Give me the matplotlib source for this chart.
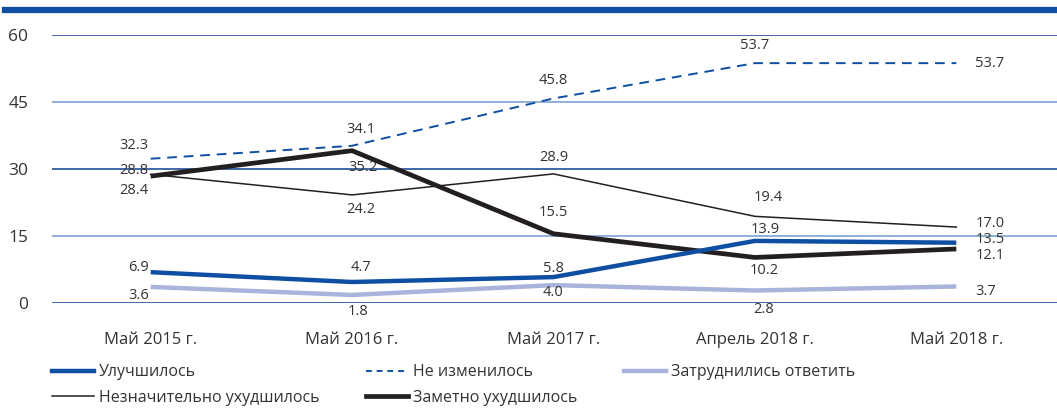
import matplotlib
matplotlib.use("Agg")
import matplotlib.pyplot as plt
from matplotlib.lines import Line2D

plt.rcParams['font.family'] = ['Open Sans', 'DejaVu Sans']

periods = ["Май 2015 г.", "Май 2016 г.", "Май 2017 г.", "Апрель 2018 г.", "Май 2018 г."]
improved = [6.9, 4.7, 5.8, 13.9, 13.5]
unchanged = [32.3, 35.2, 45.8, 53.7, 53.7]
no_answer = [3.6, 1.8, 4.0, 2.8, 3.7]
slightly_worse = [28.8, 24.2, 28.9, 19.4, 17.0]
much_worse = [28.4, 34.1, 15.5, 10.2, 12.1]
yticks = [0, 15, 30, 45, 60]

BLUE = "#0f4fa3"
LAV = "#aab3db"
DARK = "#231f20"

# label offsets in pixels (dx, dy) per point
off_improved = [(-2, 5), (9, 15), (0, 9), (10, 11), (19, 3)]
off_unchanged = [(-2, 13), (11, -22), (0, 18), (0, 18), (19, 0)]
off_no_answer = [(-2, -9), (6, -17), (0, -7), (9, -19), (19, -5)]
off_slightly = [(-2, 4), (9, -15), (0, 16), (13, 19), (19, 4)]
off_much = [(-2, -14), (9, 21), (0, 21), (9, -13), (19, -7)]

fig = plt.figure(figsize=(10.57, 4.15), dpi=100)
ax = fig.add_axes([52 / 1057, 1 - 303 / 415, 1 - 52 / 1057, 268 / 415])

x = list(range(len(periods)))
ax.set_xlim(-0.49, 4.5)
ax.set_ylim(0, 60)

for t in yticks:
    c = "#1f4e9a" if t % 30 == 0 else "#7ea3d3"
    ax.axhline(t, color=c, lw=1.2, zorder=0)

ax.plot(x, no_answer, color=LAV, lw=3.2, solid_capstyle='butt')
ax.plot(x, slightly_worse, color=DARK, lw=1.1)
ax.plot(x, much_worse, color=DARK, lw=3.4, solid_capstyle='butt')
ax.plot(x, unchanged, color=BLUE, lw=1.4, dashes=(5, 3.5))
ax.plot(x, improved, color=BLUE, lw=3.2, solid_capstyle='butt')

for vals, offs in [(improved, off_improved), (unchanged, off_unchanged),
                   (no_answer, off_no_answer), (slightly_worse, off_slightly),
                   (much_worse, off_much)]:
    for i, (v, (dx, dy)) in enumerate(zip(vals, offs)):
        ha = 'right' if i == 0 else ('left' if i == len(vals) - 1 else 'center')
        ax.annotate(f"{v:.1f}", (i, v), xytext=(dx, dy), textcoords='offset pixels',
                    ha=ha, va='center', fontsize=10.5, color="#333333")

ax.set_xticks(x)
ax.set_xticklabels(periods, fontsize=12, color="#333333")
ax.set_yticks(yticks)
ax.set_yticklabels([str(t) for t in yticks], fontsize=12.5, color="#333333")
ax.tick_params(length=0)
ax.tick_params(axis='x', pad=21)
ax.tick_params(axis='y', pad=17)
for s in ax.spines.values():
    s.set_visible(False)

# top bar
fig.add_artist(Line2D([5 / 1057, 1], [1 - 10 / 415, 1 - 10 / 415], color=BLUE, lw=4.5))

handles = [
    Line2D([], [], color=BLUE, lw=3.2),
    Line2D([], [], color=DARK, lw=1.1),
    Line2D([], [], color=BLUE, lw=1.4, dashes=(3, 2.5)),
    Line2D([], [], color=DARK, lw=3.4),
    Line2D([], [], color=LAV, lw=3.2),
]
labels = ["Улучшилось", "Незначительно ухудшилось", "Не изменилось",
          "Заметно ухудшилось", "Затруднились ответить"]
fig.legend(handles, labels, ncol=3, loc='upper left', bbox_to_anchor=(38 / 1057, 1 - 350 / 415),
           frameon=False, handlelength=2.6, handletextpad=0.3,
           columnspacing=2.95, labelspacing=0.6, labelcolor="#333333",
           prop={'size': 11.5})

fig.savefig("out.png", dpi=100)
